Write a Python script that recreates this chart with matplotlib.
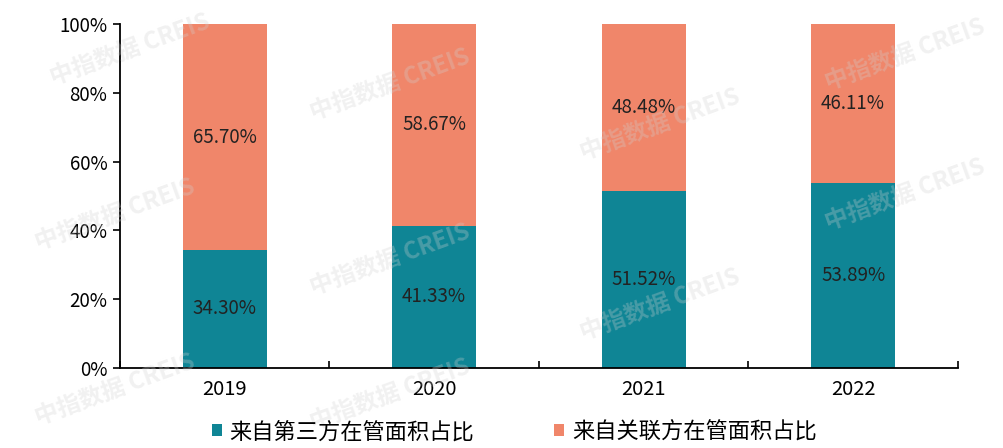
import matplotlib
matplotlib.use("Agg")
import matplotlib.pyplot as plt
import numpy as np

plt.rcParams['font.family'] = ['Noto Sans CJK SC', 'DejaVu Sans']

years = ["2019", "2020", "2021", "2022"]
third_party = [34.30, 41.33, 51.52, 53.89]
related = [65.70, 58.67, 48.48, 46.11]
labels = ["来自第三方在管面积占比", "来自关联方在管面积占比"]
teal = "#0F8595"
salmon = "#F0866A"

fig = plt.figure(figsize=(10.04, 4.48), dpi=100)
ax = fig.add_axes([0.1195, 0.1786, 0.8345, 0.7678])

x = np.arange(len(years))
b1 = ax.bar(x, third_party, width=0.4, color=teal, label=labels[0])
b2 = ax.bar(x, related, width=0.4, bottom=third_party, color=salmon, label=labels[1])

for i in range(len(years)):
    ax.text(x[i], third_party[i] / 2, f"{third_party[i]:.2f}%", ha="center", va="center",
            fontsize=13.5, color="#222222")
    ax.text(x[i], third_party[i] + related[i] / 2, f"{related[i]:.2f}%", ha="center",
            va="center", fontsize=13.5, color="#222222")

ax.set_xlim(-0.5, 3.5)
ax.set_ylim(0, 100)
ax.set_yticks(np.arange(0, 101, 20))
ax.set_yticklabels([f"{v}%" for v in range(0, 101, 20)], fontsize=13.5)
ax.set_xticks(x)
ax.set_xticklabels(years, fontsize=14.5)
ax.tick_params(axis="x", length=0, pad=8)
ax.set_xticks(np.arange(-0.5, 4.0, 1.0), minor=True)
ax.tick_params(axis="x", which="minor", direction="in", length=5, width=1.2)
ax.tick_params(axis="y", direction="out", length=5, width=1.2, pad=4)
for s in ["top", "right"]:
    ax.spines[s].set_visible(False)
ax.spines["left"].set_linewidth(1.3)
ax.spines["bottom"].set_linewidth(1.3)

fig.legend(handles=[b1, b2], loc="center", bbox_to_anchor=(0.512, 0.036), ncol=2,
           frameon=False, fontsize=16, handlelength=0.45, handleheight=0.45,
           handletextpad=0.35, columnspacing=3.6)

# watermarks
for cx, cy in [(130, 50), (390, 85), (660, 125), (905, 55), (115, 215), (390, 260),
               (660, 305), (905, 195), (115, 390), (390, 395)]:
    fig.text(cx / 1004, 1 - cy / 448, "中指数据 CREIS", rotation=20, ha="center", va="center",
             fontsize=17, fontweight="bold", color="#d0d0d0", alpha=0.3)

fig.savefig("out.png", dpi=100)
